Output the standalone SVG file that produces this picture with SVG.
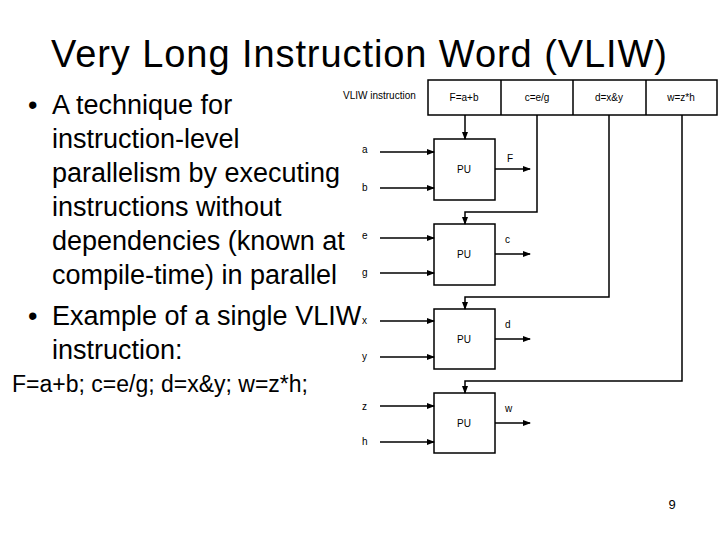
<svg xmlns="http://www.w3.org/2000/svg" width="720" height="540" viewBox="0 0 720 540">
<style>
text{font-family:"Liberation Sans",Arial,sans-serif;fill:#000}
.t{font-size:27px}
.s{font-size:10px}
.b{fill:#fff;stroke:#000;stroke-width:1.5}
.l{fill:none;stroke:#000;stroke-width:1.5}
</style>
<defs><marker id="ah" markerWidth="8" markerHeight="8" refX="7" refY="4" orient="auto" markerUnits="userSpaceOnUse"><path d="M0,1 L8,4 L0,7 Z" fill="#000"/></marker></defs>
<rect width="720" height="540" fill="#fff"/>
<text x="359" y="67" font-size="38" text-anchor="middle" textLength="616" lengthAdjust="spacing">Very Long Instruction Word (VLIW)</text>
<g id="bullets">
<text class="t" x="28" y="114">•</text>
<text class="t" x="52" y="114">A technique for</text>
<text class="t" x="52" y="148">instruction-level</text>
<text class="t" x="52" y="182">parallelism by executing</text>
<text class="t" x="52" y="216">instructions without</text>
<text class="t" x="52" y="250">dependencies (known at</text>
<text class="t" x="52" y="284">compile-time) in parallel</text>
<text class="t" x="28" y="325">•</text>
<text class="t" x="52" y="325">Example of a single VLIW</text>
<text class="t" x="52" y="359">instruction:</text>
<text x="12" y="392" font-size="23">F=a+b; c=e/g; d=x&amp;y; w=z*h;</text>
</g>
<g id="vliw">
<text class="s" x="343" y="99">VLIW instruction</text>
<rect class="b" x="428" y="80" width="289" height="35"/>
<path class="l" d="M501,80V115M573,80V115M646,80V115"/>
<text class="s" x="464" y="101" text-anchor="middle">F=a+b</text>
<text class="s" x="537" y="101" text-anchor="middle">c=e/g</text>
<text class="s" x="609" y="101" text-anchor="middle">d=x&amp;y</text>
<text class="s" x="681" y="101" text-anchor="middle">w=z*h</text>
</g>
<g id="pu1"><rect class="b" x="434" y="139" width="61" height="61"/><text class="s" x="464" y="173" text-anchor="middle">PU</text></g>
<g id="pu2"><rect class="b" x="434" y="224" width="61" height="61"/><text class="s" x="464" y="258" text-anchor="middle">PU</text></g>
<g id="pu3"><rect class="b" x="434" y="309" width="61" height="60"/><text class="s" x="464" y="343" text-anchor="middle">PU</text></g>
<g id="pu4"><rect class="b" x="434" y="393" width="61" height="60"/><text class="s" x="464" y="427" text-anchor="middle">PU</text></g>
<g id="labels">
<text class="s" x="362" y="153">a</text><text class="s" x="362" y="191">b</text>
<text class="s" x="362" y="239">e</text><text class="s" x="362" y="276">g</text>
<text class="s" x="362" y="324">x</text><text class="s" x="362" y="360">y</text>
<text class="s" x="362" y="410">z</text><text class="s" x="362" y="445">h</text>
<text class="s" x="507" y="162">F</text><text class="s" x="505" y="243">c</text>
<text class="s" x="505" y="328">d</text><text class="s" x="505" y="412">w</text>
</g>
<g id="connectors">
<path class="l" marker-end="url(#ah)" d="M380,152H434"/>
<path class="l" marker-end="url(#ah)" d="M380,188H434"/>
<path class="l" marker-end="url(#ah)" d="M380,238H434"/>
<path class="l" marker-end="url(#ah)" d="M380,273H434"/>
<path class="l" marker-end="url(#ah)" d="M380,321H434"/>
<path class="l" marker-end="url(#ah)" d="M380,357H434"/>
<path class="l" marker-end="url(#ah)" d="M380,406H434"/>
<path class="l" marker-end="url(#ah)" d="M380,442H434"/>
<path class="l" marker-end="url(#ah)" d="M495,169H530"/>
<path class="l" marker-end="url(#ah)" d="M495,254H530"/>
<path class="l" marker-end="url(#ah)" d="M495,339H530"/>
<path class="l" marker-end="url(#ah)" d="M495,423H530"/>
<path class="l" marker-end="url(#ah)" d="M465,115V139"/>
<path class="l" marker-end="url(#ah)" d="M537,115V212H465V224"/>
<path class="l" marker-end="url(#ah)" d="M609,115V297H465V309"/>
<path class="l" marker-end="url(#ah)" d="M682,115V381H465V393"/>
</g>
<text x="672" y="509" font-size="13" text-anchor="middle">9</text>
</svg>
